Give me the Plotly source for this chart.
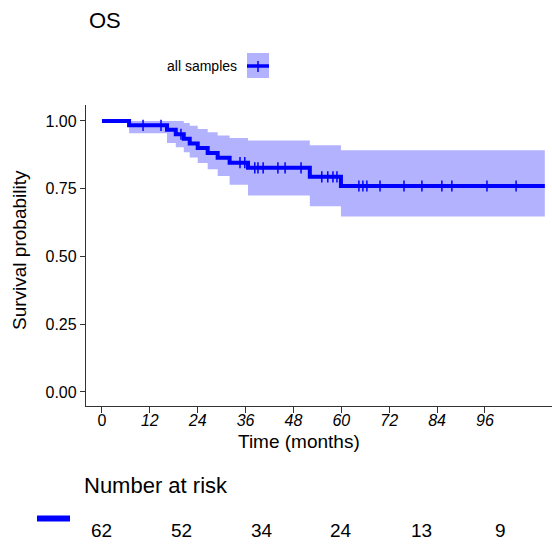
import numpy as np
import plotly.graph_objects as go

# ---- data ----
step_times = [0, 6.8, 16.3, 18.5, 20.5, 22.0, 24.0, 26.5, 29.0, 32.0, 36.6, 52.1, 59.9]
surv       = [1.0, 0.984, 0.968, 0.951, 0.934, 0.917, 0.900, 0.882, 0.864, 0.846, 0.827, 0.794, 0.760]
upper_ci   = [1.0, 1.0, 1.0, 1.0, 0.993, 0.982, 0.970, 0.958, 0.946, 0.937, 0.928, 0.910, 0.892]
lower_ci   = [1.0, 0.955, 0.919, 0.903, 0.885, 0.865, 0.845, 0.822, 0.797, 0.765, 0.725, 0.685, 0.647]
end_time = 111.0
censor_times = [10.3, 14.8, 19.8, 34.6, 35.8, 38.3, 39.1, 40.4, 44.1, 45.9, 49.9,
                55.1, 56.6, 57.9, 58.9, 64.4, 65.4, 66.4, 69.7, 75.7, 80.2, 85.2,
                87.7, 96.5, 103.8]
x_tick_vals = [0, 12, 24, 36, 48, 60, 72, 84, 96]
x_tick_text = ["0", "<i>12</i>", "<i>24</i>", "<i>36</i>", "<i>48</i>", "<i>60</i>",
               "<i>72</i>", "<i>84</i>", "<i>96</i>"]
y_tick_vals = [0, 0.25, 0.5, 0.75, 1.0]
y_tick_text = ["0.00", "0.25", "0.50", "0.75", "1.00"]
risk_times = [0, 20, 40, 60, 80, 100]
risk_counts = [62, 52, 34, 24, 13, 9]
series_name = "all samples"

BLUE = "#0000FF"
BAND = "rgba(0,0,255,0.30)"
FONT = "Liberation Sans, Arial, sans-serif"

t_ext = step_times + [end_time]
s_ext = surv + [surv[-1]]
u_ext = upper_ci + [upper_ci[-1]]
l_ext = lower_ci + [lower_ci[-1]]

idx = np.searchsorted(np.array(step_times), np.array(censor_times), side="right") - 1
censor_surv = [surv[i] for i in idx]

fig = go.Figure()
fig.add_trace(go.Scatter(x=t_ext, y=l_ext, mode="lines", line=dict(width=0, shape="hv"),
                         hoverinfo="skip", showlegend=False))
fig.add_trace(go.Scatter(x=t_ext, y=u_ext, mode="lines", line=dict(width=0, shape="hv"),
                         fill="tonexty", fillcolor=BAND, hoverinfo="skip", showlegend=False))
fig.add_trace(go.Scatter(x=t_ext, y=s_ext, mode="lines", line=dict(color=BLUE, width=4, shape="hv"),
                         name=series_name, showlegend=False))
fig.add_trace(go.Scatter(x=censor_times, y=censor_surv, mode="markers",
                         marker=dict(symbol="line-ns", size=8, line=dict(color=BLUE, width=1.5)),
                         showlegend=False, hoverinfo="skip"))

W, H = 552, 549
L, R, T, B = 86, 0, 105, 143
pw, ph = W - L - R, H - T - B

def px(xp):
    return (xp - L) / pw

def py(yp):
    return (H - B - yp) / ph

fig.update_layout(
    width=W, height=H,
    margin=dict(l=L, r=R, t=T, b=B),
    paper_bgcolor="white", plot_bgcolor="white",
    font=dict(family=FONT, color="black"),
    showlegend=False,
    xaxis=dict(range=[-4.0, 112.8], tickvals=x_tick_vals, ticktext=x_tick_text,
               showgrid=False, zeroline=False, showline=True, linecolor="#333333", linewidth=1.3,
               ticks="outside", ticklen=6, tickcolor="#333333", tickwidth=1.3,
               ticklabelstandoff=-6,
               tickfont=dict(size=16, family=FONT, color="black")),
    yaxis=dict(range=[-0.052, 1.059], tickvals=y_tick_vals, ticktext=y_tick_text,
               showgrid=False, zeroline=False, showline=True, linecolor="#333333", linewidth=1.3,
               ticks="outside", ticklen=5, tickcolor="#333333", tickwidth=1.3,
               tickfont=dict(size=16, family=FONT, color="black")),
)

ann = []
ann.append(dict(text="OS", x=px(87), y=py(21), xref="paper", yref="paper", xanchor="left",
                yanchor="middle", showarrow=False, font=dict(size=22, family=FONT)))
ann.append(dict(text=series_name, x=px(239), y=py(66), xref="paper", yref="paper", xanchor="right",
                yanchor="middle", showarrow=False, font=dict(size=14, family=FONT)))
ann.append(dict(text="Survival probability", x=px(19), y=py(250), xref="paper", yref="paper",
                xanchor="center", yanchor="middle", textangle=-90, showarrow=False,
                font=dict(size=19, family=FONT)))
ann.append(dict(text="Time (months)", x=px(299), y=py(442), xref="paper", yref="paper",
                xanchor="center", yanchor="middle", showarrow=False, font=dict(size=19, family=FONT)))
ann.append(dict(text="Number at risk", x=px(82), y=py(485), xref="paper", yref="paper",
                xanchor="left", yanchor="middle", showarrow=False, font=dict(size=22, family=FONT)))
for t, c in zip(risk_times, risk_counts):
    ann.append(dict(text=str(c), x=t, y=py(530), xref="x", yref="paper", xanchor="center",
                    yanchor="middle", showarrow=False, font=dict(size=19, family=FONT)))
fig.update_layout(annotations=ann)

shapes = [
    dict(type="rect", xref="paper", yref="paper", x0=px(247), x1=px(269), y0=py(78), y1=py(53),
         fillcolor=BAND, line=dict(width=0)),
    dict(type="line", xref="paper", yref="paper", x0=px(247), x1=px(269), y0=py(66), y1=py(66),
         line=dict(color=BLUE, width=3.5)),
    dict(type="line", xref="paper", yref="paper", x0=px(258), x1=px(258), y0=py(72), y1=py(61),
         line=dict(color=BLUE, width=1.5)),
    dict(type="line", xref="paper", yref="paper", x0=px(37), x1=px(70), y0=py(518.5), y1=py(518.5),
         line=dict(color=BLUE, width=6)),
]
fig.update_layout(shapes=shapes)

fig.write_html("out.html")
